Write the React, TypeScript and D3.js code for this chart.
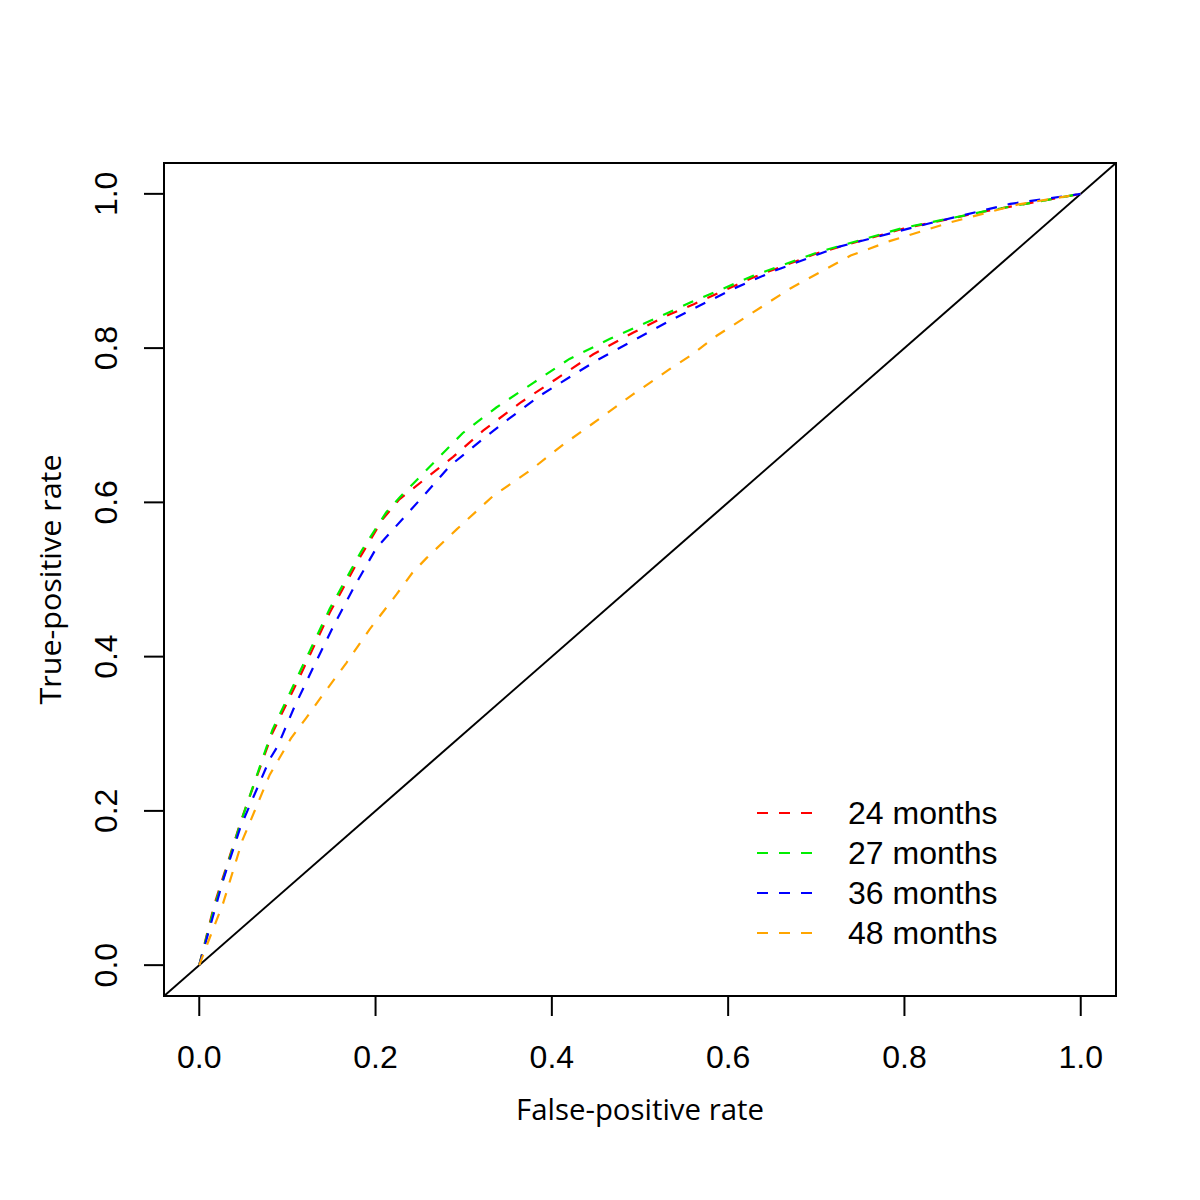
import React from 'react';
import * as d3 from 'd3';

// ROC curves (false-positive rate / true-positive rate)
const fpr24 = [0, 0.017, 0.047, 0.083, 0.114, 0.148, 0.184, 0.208, 0.227, 0.288, 0.322, 0.364, 0.405, 0.447, 0.492, 0.534, 0.561, 0.629, 0.701, 0.799, 0.894, 1];
const tpr24 = [0, 0.078, 0.186, 0.301, 0.374, 0.457, 0.532, 0.578, 0.604, 0.659, 0.693, 0.729, 0.76, 0.792, 0.82, 0.844, 0.857, 0.892, 0.923, 0.955, 0.978, 1];

const fpr27 = [0, 0.017, 0.047, 0.083, 0.114, 0.148, 0.184, 0.212, 0.227, 0.299, 0.337, 0.379, 0.42, 0.466, 0.511, 0.557, 0.629, 0.701, 0.799, 0.894, 1];
const tpr27 = [0, 0.075, 0.185, 0.305, 0.38, 0.462, 0.537, 0.587, 0.606, 0.69, 0.723, 0.755, 0.786, 0.812, 0.835, 0.859, 0.894, 0.924, 0.956, 0.978, 1];

const fpr36 = [0, 0.027, 0.047, 0.08, 0.089, 0.108, 0.131, 0.152, 0.176, 0.201, 0.22, 0.254, 0.284, 0.326, 0.345, 0.386, 0.428, 0.451, 0.496, 0.538, 0.564, 0.606, 0.652, 0.724, 0.822, 0.92, 1];
const tpr36 = [0, 0.11, 0.18, 0.267, 0.284, 0.335, 0.39, 0.439, 0.491, 0.541, 0.565, 0.608, 0.647, 0.686, 0.703, 0.738, 0.768, 0.784, 0.812, 0.838, 0.853, 0.877, 0.9, 0.931, 0.96, 0.987, 1];

const fpr48 = [0, 0.01, 0.027, 0.049, 0.08, 0.104, 0.121, 0.136, 0.167, 0.193, 0.224, 0.242, 0.258, 0.292, 0.333, 0.375, 0.413, 0.451, 0.492, 0.534, 0.557, 0.587, 0.67, 0.739, 0.784, 0.852, 0.928, 1];
const tpr48 = [0, 0.03, 0.08, 0.162, 0.247, 0.294, 0.32, 0.344, 0.392, 0.435, 0.481, 0.509, 0.528, 0.565, 0.608, 0.641, 0.675, 0.706, 0.74, 0.773, 0.79, 0.816, 0.877, 0.92, 0.939, 0.963, 0.986, 1];

const seriesNames = ['24 months', '27 months', '36 months', '48 months'];
const seriesColors = ['#ff0000', '#00ee00', '#0000ff', '#ffa500'];
const ticks = [0, 0.2, 0.4, 0.6, 0.8, 1.0];

const axisFont = 'Liberation Sans, Arial, sans-serif';
const titleFont = 'Open Sans, Noto Sans, sans-serif';

function App() {
  const width = 1200;
  const height = 1200;
  const box = { left: 164, right: 1116, top: 163, bottom: 996 };

  const x = d3.scaleLinear().domain([-0.04, 1.04]).range([box.left, box.right]);
  const y = d3.scaleLinear().domain([-0.04, 1.04]).range([box.bottom, box.top]);

  const curves = [
    [fpr24, tpr24],
    [fpr27, tpr27],
    [fpr36, tpr36],
    [fpr48, tpr48],
  ];

  const line = d3
    .line<number[]>()
    .x((d) => x(d[0]))
    .y((d) => y(d[1]));

  const legendY = d3.scalePoint<string>().domain(seriesNames).range([813, 933]);

  return (
    <svg
      width={width}
      height={height}
      style={{ position: 'absolute', left: 0, top: 0, display: 'block', background: '#fff' }}
    >
      <defs>
        <clipPath id="plotClip">
          <rect x={box.left} y={box.top} width={box.right - box.left} height={box.bottom - box.top} />
        </clipPath>
      </defs>

      {/* diagonal reference line */}
      <g clipPath="url(#plotClip)">
        <line x1={x(-0.04)} y1={y(-0.04)} x2={x(1.04)} y2={y(1.04)} stroke="#000" strokeWidth={2} />
        {curves.map((c, i) => (
          <path
            key={seriesNames[i]}
            d={line(c[0].map((v, j) => [v, c[1][j]])) || ''}
            fill="none"
            stroke={seriesColors[i]}
            strokeWidth={2.2}
            strokeDasharray="11,11"
          />
        ))}
      </g>

      {/* plot box */}
      <rect
        x={box.left}
        y={box.top}
        width={box.right - box.left}
        height={box.bottom - box.top}
        fill="none"
        stroke="#000"
        strokeWidth={2}
      />

      {/* x axis */}
      <g>
        <line x1={x(0)} x2={x(1)} y1={box.bottom} y2={box.bottom} stroke="#000" strokeWidth={2} />
        {ticks.map((t) => (
          <g key={'x' + t}>
            <line x1={x(t)} x2={x(t)} y1={box.bottom} y2={box.bottom + 20} stroke="#000" strokeWidth={2} />
            <text x={x(t)} y={1068} textAnchor="middle" fontFamily={axisFont} fontSize={32}>
              {t.toFixed(1)}
            </text>
          </g>
        ))}
      </g>

      {/* y axis */}
      <g>
        <line x1={box.left} x2={box.left} y1={y(0)} y2={y(1)} stroke="#000" strokeWidth={2} />
        {ticks.map((t) => (
          <g key={'y' + t}>
            <line x1={box.left - 20} x2={box.left} y1={y(t)} y2={y(t)} stroke="#000" strokeWidth={2} />
            <text
              transform={`translate(117,${y(t)}) rotate(-90)`}
              textAnchor="middle"
              fontFamily={axisFont}
              fontSize={32}
            >
              {t.toFixed(1)}
            </text>
          </g>
        ))}
      </g>

      {/* axis titles */}
      <text
        x={(box.left + box.right) / 2}
        y={1120}
        textAnchor="middle"
        fontFamily={titleFont}
        fontSize={30}
        textLength={248}
        lengthAdjust="spacingAndGlyphs"
      >
        False-positive rate
      </text>
      <text
        transform={`translate(61,${(box.top + box.bottom) / 2}) rotate(-90)`}
        textAnchor="middle"
        fontFamily={titleFont}
        fontSize={30}
        textLength={250}
        lengthAdjust="spacingAndGlyphs"
      >
        True-positive rate
      </text>

      {/* legend */}
      <g>
        {seriesNames.map((name, i) => (
          <g key={name}>
            <line
              x1={757}
              x2={812}
              y1={legendY(name)}
              y2={legendY(name)}
              stroke={seriesColors[i]}
              strokeWidth={2.2}
              strokeDasharray="11,11"
            />
            <text x={848} y={(legendY(name) || 0) + 11} fontFamily={axisFont} fontSize={32}>
              {name}
            </text>
          </g>
        ))}
      </g>
    </svg>
  );
}

export default App;
